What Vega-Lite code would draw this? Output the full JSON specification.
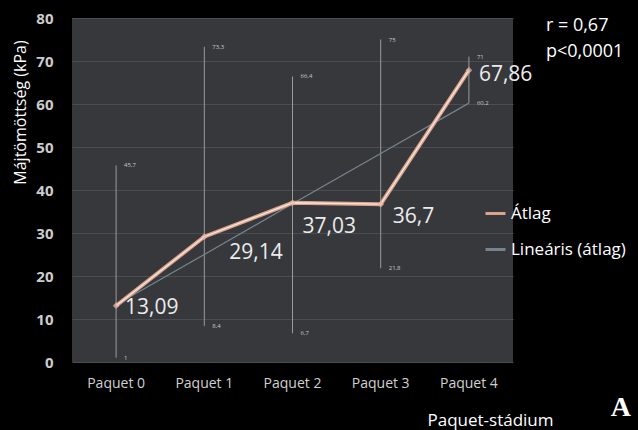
{
  "$schema": "https://vega.github.io/schema/vega-lite/v6.json",
  "width": 441,
  "height": 344,
  "autosize": "none",
  "padding": {"left": 72, "top": 18, "right": 125, "bottom": 68},
  "background": "#000000",
  "config": {
    "view": {"fill": "#36383c", "stroke": null},
    "font": "Open Sans"
  },
  "datasets": {
    "means": [
      {"stage": "Paquet 0", "mean": 13.09, "label": "13,09", "series": "Átlag"},
      {"stage": "Paquet 1", "mean": 29.14, "label": "29,14", "series": "Átlag"},
      {"stage": "Paquet 2", "mean": 37.03, "label": "37,03", "series": "Átlag"},
      {"stage": "Paquet 3", "mean": 36.7, "label": "36,7", "series": "Átlag"},
      {"stage": "Paquet 4", "mean": 67.86, "label": "67,86", "series": "Átlag"}
    ],
    "trend": [
      {"stage": "Paquet 0", "value": 13.3, "series": "Lineáris (átlag)"},
      {"stage": "Paquet 1", "value": 25.0, "series": "Lineáris (átlag)"},
      {"stage": "Paquet 2", "value": 36.8, "series": "Lineáris (átlag)"},
      {"stage": "Paquet 3", "value": 48.5, "series": "Lineáris (átlag)"},
      {"stage": "Paquet 4", "value": 60.2, "series": "Lineáris (átlag)"}
    ],
    "ranges": [
      {"stage": "Paquet 0", "min": 1, "max": 45.7, "minLabel": "1", "maxLabel": "45,7"},
      {"stage": "Paquet 1", "min": 8.4, "max": 73.3, "minLabel": "8,4", "maxLabel": "73,3"},
      {"stage": "Paquet 2", "min": 6.7, "max": 66.4, "minLabel": "6,7", "maxLabel": "66,4"},
      {"stage": "Paquet 3", "min": 21.8, "max": 75, "minLabel": "21,8", "maxLabel": "75"},
      {"stage": "Paquet 4", "min": 60.2, "max": 71, "minLabel": "60,2", "maxLabel": "71"}
    ],
    "notes": [
      {"stage": "Paquet 4", "y": 78.2, "text": "r = 0,67"},
      {"stage": "Paquet 4", "y": 72.0, "text": "p<0,0001"}
    ],
    "corner": [
      {"stage": "Paquet 4", "y": -10.7, "text": "A"}
    ]
  },
  "encoding": {
    "x": {
      "field": "stage",
      "type": "nominal",
      "scale": {"domain": ["Paquet 0", "Paquet 1", "Paquet 2", "Paquet 3", "Paquet 4"]},
      "axis": {
        "title": "Paquet-stádium",
        "titleColor": "#ffffff",
        "titleFont": "Open Sans",
        "titleFontSize": 17,
        "titleFontWeight": "normal",
        "titleX": 418,
        "titleY": 58,
        "titleBaseline": "middle",
        "titleAlign": "center",
        "labelAngle": 0,
        "labelColor": "#d0d0d0",
        "labelFontSize": 14,
        "labelPadding": 14,
        "ticks": false,
        "domain": false,
        "grid": false
      }
    }
  },
  "layer": [
    {
      "data": {"name": "ranges"},
      "mark": {"type": "rule", "color": "#9a9a9a", "strokeWidth": 1},
      "encoding": {
        "y": {
          "field": "min",
          "type": "quantitative",
          "scale": {"domain": [0, 80]},
          "axis": {
            "title": "Májtömöttség (kPa)",
            "titleColor": "#ffffff",
            "titleFont": "Open Sans",
            "titleFontSize": 16,
            "titleFontWeight": "normal",
            "titleX": -52,
            "titleY": 94,
            "titleAngle": -90,
            "titleAlign": "center",
            "titleBaseline": "middle",
            "values": [0, 10, 20, 30, 40, 50, 60, 70, 80],
            "labelColor": "#cccccc",
            "labelFontSize": 15,
            "labelFontWeight": "bold",
            "labelPadding": 19,
            "ticks": false,
            "domain": false,
            "grid": true,
            "gridColor": "#4b4d52",
            "gridWidth": 1
          }
        },
        "y2": {"field": "max"}
      }
    },
    {
      "data": {"name": "ranges"},
      "mark": {"type": "text", "align": "left", "baseline": "middle", "dx": 8, "fontSize": 6, "color": "#c8c8c8"},
      "encoding": {
        "y": {"field": "max", "type": "quantitative"},
        "text": {"field": "maxLabel"}
      }
    },
    {
      "data": {"name": "ranges"},
      "mark": {"type": "text", "align": "left", "baseline": "middle", "dx": 8, "fontSize": 6, "color": "#c8c8c8"},
      "encoding": {
        "y": {"field": "min", "type": "quantitative"},
        "text": {"field": "minLabel"}
      }
    },
    {
      "data": {"name": "trend"},
      "mark": {"type": "line", "strokeWidth": 1.3},
      "encoding": {
        "y": {"field": "value", "type": "quantitative"},
        "color": {
          "field": "series",
          "type": "nominal",
          "scale": {"domain": ["Átlag", "Lineáris (átlag)"], "range": ["#dba28c", "#76838f"]},
          "legend": {
            "title": null,
            "orient": "none",
            "legendX": 412,
            "legendY": 184,
            "symbolType": "stroke",
            "symbolSize": 400,
            "symbolStrokeWidth": 3,
            "labelColor": "#ffffff",
            "labelFontSize": 17,
            "labelFont": "Open Sans",
            "labelOffset": 4,
            "rowPadding": 16,
            "labelLimit": 200
          }
        }
      }
    },
    {
      "data": {"name": "means"},
      "mark": {"type": "line", "strokeWidth": 4},
      "encoding": {
        "y": {"field": "mean", "type": "quantitative"},
        "color": {"field": "series", "type": "nominal"}
      }
    },
    {
      "data": {"name": "means"},
      "mark": {"type": "line", "strokeWidth": 1.3, "color": "#f7e6dc"},
      "encoding": {
        "y": {"field": "mean", "type": "quantitative"}
      }
    },
    {
      "data": {"name": "means"},
      "mark": {"type": "point", "shape": "diamond", "filled": true, "size": 45, "color": "#eab9a6"},
      "encoding": {
        "y": {"field": "mean", "type": "quantitative"}
      }
    },
    {
      "data": {"name": "means"},
      "transform": [{"filter": "datum.stage === 'Paquet 0'"}],
      "mark": {"type": "text", "align": "left", "baseline": "middle", "dx": 9, "dy": 2, "fontSize": 21, "color": "#ececec"},
      "encoding": {
        "y": {"field": "mean", "type": "quantitative"},
        "text": {"field": "label"}
      }
    },
    {
      "data": {"name": "means"},
      "transform": [{"filter": "datum.stage === 'Paquet 4'"}],
      "mark": {"type": "text", "align": "left", "baseline": "middle", "dx": 10, "dy": 5, "fontSize": 21, "color": "#ececec"},
      "encoding": {
        "y": {"field": "mean", "type": "quantitative"},
        "text": {"field": "label"}
      }
    },
    {
      "data": {"name": "means"},
      "transform": [{"filter": "datum.stage === 'Paquet 1'"}],
      "mark": {"type": "text", "align": "left", "baseline": "middle", "dx": 25, "dy": 16, "fontSize": 21, "color": "#ececec"},
      "encoding": {
        "y": {"field": "mean", "type": "quantitative"},
        "text": {"field": "label"}
      }
    },
    {
      "data": {"name": "means"},
      "transform": [{"filter": "datum.stage === 'Paquet 2'"}],
      "mark": {"type": "text", "align": "left", "baseline": "middle", "dx": 10, "dy": 24, "fontSize": 21, "color": "#ececec"},
      "encoding": {
        "y": {"field": "mean", "type": "quantitative"},
        "text": {"field": "label"}
      }
    },
    {
      "data": {"name": "means"},
      "transform": [{"filter": "datum.stage === 'Paquet 3'"}],
      "mark": {"type": "text", "align": "left", "baseline": "middle", "dx": 12, "dy": 13, "fontSize": 21, "color": "#ececec"},
      "encoding": {
        "y": {"field": "mean", "type": "quantitative"},
        "text": {"field": "label"}
      }
    },
    {
      "data": {"name": "notes"},
      "mark": {"type": "text", "align": "left", "baseline": "middle", "dx": 77, "fontSize": 18, "color": "#ffffff"},
      "encoding": {
        "y": {"field": "y", "type": "quantitative"},
        "text": {"field": "text"}
      }
    },
    {
      "data": {"name": "corner"},
      "mark": {"type": "text", "align": "center", "baseline": "middle", "dx": 152, "fontSize": 28, "fontWeight": "bold", "font": "Liberation Serif", "color": "#ffffff"},
      "encoding": {
        "y": {"field": "y", "type": "quantitative"},
        "text": {"field": "text"}
      }
    }
  ]
}
